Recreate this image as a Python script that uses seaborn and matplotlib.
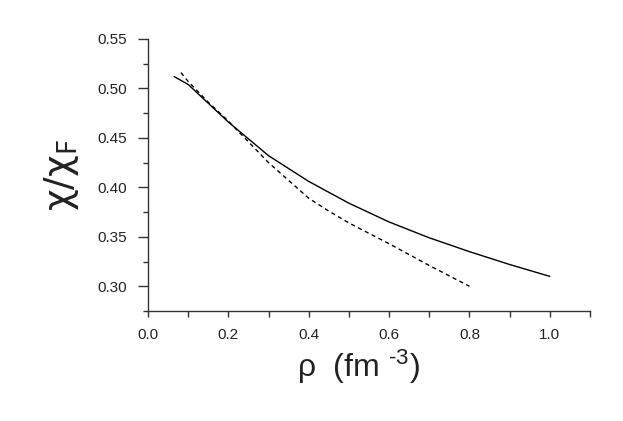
import numpy as np
import pandas as pd
import matplotlib
matplotlib.use("Agg")
import matplotlib.pyplot as plt
import seaborn as sns
from matplotlib.ticker import MultipleLocator

# solid curve
rho_solid = [0.065, 0.10, 0.15, 0.20, 0.30, 0.40, 0.50, 0.60, 0.70, 0.80, 0.90, 1.00]
chi_solid = [0.512, 0.504, 0.485, 0.466, 0.432, 0.406, 0.384, 0.365, 0.349, 0.335, 0.322, 0.310]

# dashed curve
rho_dash = [0.082, 0.10, 0.15, 0.20, 0.30, 0.40, 0.45, 0.50, 0.60, 0.70, 0.80]
chi_dash = [0.516, 0.507, 0.486, 0.467, 0.425, 0.389, 0.376, 0.364, 0.343, 0.321, 0.300]

xticks = [0.0, 0.2, 0.4, 0.6, 0.8, 1.0]
yticks = [0.30, 0.35, 0.40, 0.45, 0.50, 0.55]

df = pd.concat([
    pd.DataFrame({"rho": rho_solid, "chi": chi_solid, "curve": "solid"}),
    pd.DataFrame({"rho": rho_dash, "chi": chi_dash, "curve": "dash"}),
])

sns.set_theme(style="ticks")
plt.rcParams['font.family'] = ['Liberation Sans', 'DejaVu Sans']
plt.rcParams['mathtext.default'] = 'regular'

fig = plt.figure(figsize=(6.23, 4.21), dpi=100)
ax = fig.add_axes([0.2376, 0.2613, 0.7094, 0.6461])

sns.lineplot(data=df, x="rho", y="chi", style="curve", color="black",
             dashes={"solid": "", "dash": (3, 2.5)}, linewidth=1.0,
             sort=False, legend=False, ax=ax)

ax.set_xlim(0, 1.1)
ax.set_ylim(0.275, 0.55)
ax.xaxis.set_minor_locator(MultipleLocator(0.1))
ax.yaxis.set_minor_locator(MultipleLocator(0.025))
ax.set_xticks(xticks)
ax.set_xticklabels([f"{v:.1f}" for v in xticks])
ax.set_yticks(yticks)
ax.set_yticklabels([f"{v:.2f}" for v in yticks])

for s in ["top", "right"]:
    ax.spines[s].set_visible(False)
for s in ["left", "bottom"]:
    ax.spines[s].set_color("#333333")
    ax.spines[s].set_linewidth(1.0)
ax.tick_params(which="both", colors="#333333", labelcolor="#222222",
               labelsize=11, width=1.0)
ax.tick_params(axis="y", which="major", length=7, pad=8)
ax.tick_params(axis="y", which="minor", length=3.5)
ax.tick_params(axis="x", which="both", length=4, pad=8)

ax.set_xlabel("ρ  (fm $^{\u20103}$)", fontsize=23, color="#222222")
ax.xaxis.set_label_coords(0.475, -0.135)
ax.set_ylabel("χ/χ$_{F}$", fontsize=27, color="#222222", labelpad=12,
              family=['DejaVu Sans'])

fig.savefig("out.png", dpi=100)
